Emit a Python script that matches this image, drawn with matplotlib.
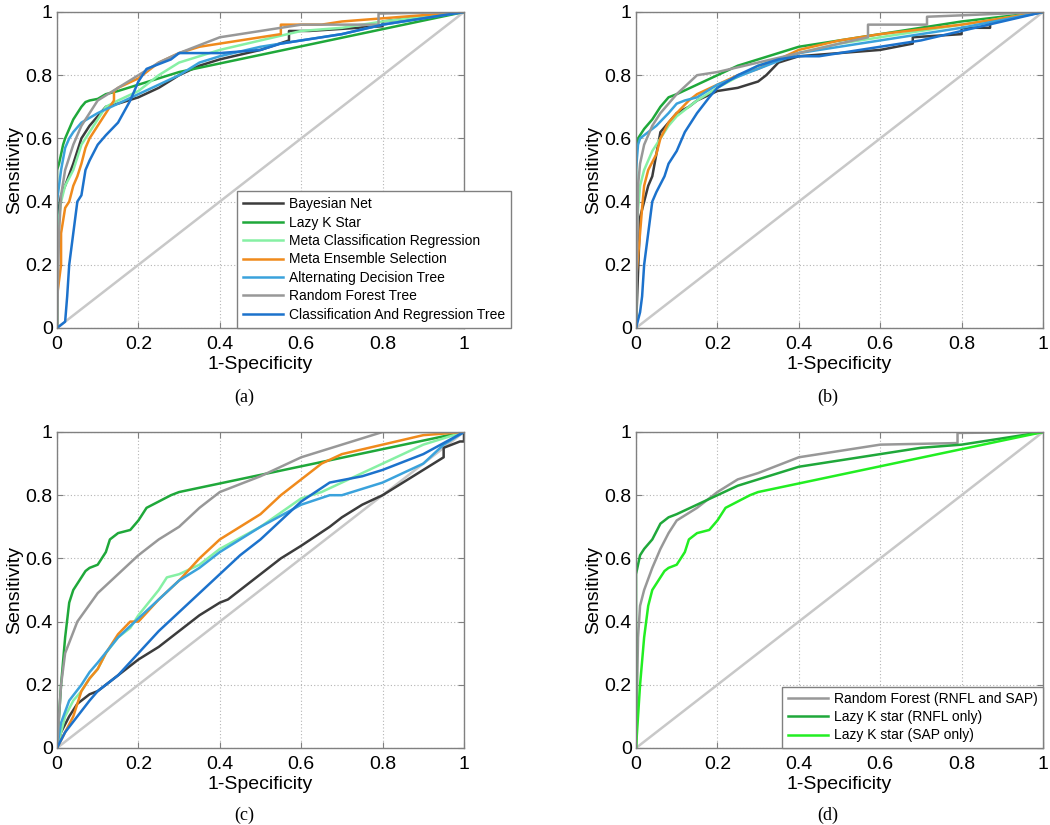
import numpy as np
import matplotlib
matplotlib.use('Agg')
import matplotlib.pyplot as plt

plt.rcParams['font.family'] = ['Liberation Sans', 'DejaVu Sans']

# ---- data (1-specificity, sensitivity) ----
names7 = ['Bayesian Net', 'Lazy K Star', 'Meta Classification Regression',
          'Meta Ensemble Selection', 'Alternating Decision Tree',
          'Random Forest Tree', 'Classification And Regression Tree']
colors7 = ['#3c3c3c', '#1fa83a', '#86f0a4', '#f08a1c', '#3aa2dc', '#989898', '#1c72cc']

# panel (a)
a_bayes = [(0,0),(0,0.35),(0.01,0.42),(0.02,0.45),(0.04,0.52),(0.06,0.6),(0.08,0.64),(0.1,0.67),
           (0.12,0.7),(0.15,0.71),(0.2,0.73),(0.25,0.76),(0.3,0.8),(0.35,0.83),(0.4,0.85),(0.5,0.88),
           (0.57,0.91),(0.57,0.94),(0.62,0.94),(0.8,0.955),(0.8,0.97),(1,1)]
a_lazy = [(0,0),(0,0.5),(0.005,0.52),(0.01,0.55),(0.015,0.58),(0.02,0.6),(0.03,0.63),(0.04,0.66),
          (0.05,0.68),(0.06,0.7),(0.07,0.715),(0.08,0.72),(0.1,0.725),(0.12,0.74),(0.15,0.75),
          (0.2,0.77),(0.25,0.79),(0.3,0.81),(1,1)]
a_metacr = [(0,0),(0,0.3),(0.01,0.4),(0.02,0.45),(0.04,0.5),(0.06,0.58),(0.08,0.62),(0.1,0.66),
            (0.12,0.7),(0.15,0.72),(0.2,0.75),(0.25,0.8),(0.3,0.84),(0.4,0.88),(0.5,0.91),(0.6,0.94),
            (0.7,0.95),(0.8,0.97),(1,1)]
a_metaes = [(0,0),(0,0.1),(0.01,0.2),(0.01,0.3),(0.02,0.38),(0.03,0.4),(0.04,0.45),(0.05,0.48),
            (0.06,0.52),(0.07,0.57),(0.08,0.6),(0.1,0.64),(0.12,0.68),(0.14,0.72),(0.14,0.75),
            (0.15,0.76),(0.2,0.79),(0.25,0.84),(0.3,0.87),(0.35,0.89),(0.4,0.9),(0.5,0.92),
            (0.55,0.93),(0.55,0.96),(0.65,0.96),(0.7,0.97),(0.8,0.98),(1,1)]
a_adt = [(0,0),(0,0.4),(0.01,0.5),(0.02,0.57),(0.03,0.6),(0.04,0.62),(0.06,0.65),(0.1,0.68),
         (0.15,0.71),(0.2,0.74),(0.25,0.77),(0.3,0.8),(0.35,0.84),(0.4,0.86),(0.5,0.89),(0.6,0.91),
         (0.7,0.93),(0.8,0.96),(0.9,0.98),(1,1)]
a_rf = [(0,0),(0.005,0.3),(0.01,0.42),(0.02,0.5),(0.04,0.58),(0.06,0.64),(0.08,0.68),(0.1,0.72),
        (0.15,0.76),(0.2,0.8),(0.25,0.84),(0.3,0.87),(0.4,0.92),(0.5,0.94),(0.6,0.96),(0.79,0.96),
        (0.79,0.995),(1,1)]
a_cart = [(0,0),(0.02,0.02),(0.025,0.1),(0.03,0.2),(0.04,0.3),(0.05,0.4),(0.06,0.42),(0.07,0.5),
          (0.08,0.53),(0.1,0.58),(0.12,0.61),(0.15,0.65),(0.18,0.72),(0.2,0.78),(0.22,0.82),
          (0.28,0.85),(0.3,0.87),(0.4,0.87),(0.5,0.88),(0.55,0.9),(0.6,0.91),(0.7,0.93),(0.8,0.96),(1,1)]

# panel (b)
b_bayes = [(0,0),(0.01,0.35),(0.02,0.4),(0.03,0.45),(0.04,0.48),(0.05,0.55),(0.06,0.62),(0.08,0.65),
           (0.1,0.68),(0.13,0.7),(0.15,0.72),(0.2,0.75),(0.25,0.76),(0.3,0.78),(0.32,0.8),(0.35,0.84),
           (0.4,0.86),(0.5,0.87),(0.6,0.88),(0.68,0.9),(0.68,0.92),(0.8,0.93),(0.8,0.95),(0.87,0.95),
           (0.87,0.97),(1,1)]
b_lazy = [(0,0),(0,0.55),(0.005,0.6),(0.02,0.63),(0.04,0.66),(0.06,0.7),(0.08,0.73),(0.1,0.74),
          (0.15,0.77),(0.2,0.8),(0.25,0.83),(0.3,0.85),(0.35,0.87),(0.4,0.89),(0.5,0.91),(0.6,0.93),
          (0.8,0.97),(1,1)]
b_metacr = [(0,0),(0,0.3),(0.01,0.45),(0.02,0.5),(0.04,0.56),(0.06,0.6),(0.08,0.64),(0.1,0.67),
            (0.15,0.72),(0.2,0.76),(0.3,0.83),(0.4,0.87),(0.5,0.9),(0.6,0.92),(0.8,0.96),(1,1)]
b_metaes = [(0,0),(0,0.15),(0.01,0.3),(0.015,0.38),(0.02,0.45),(0.03,0.5),(0.05,0.55),(0.06,0.6),
            (0.08,0.65),(0.1,0.68),(0.13,0.72),(0.15,0.74),(0.2,0.77),(0.25,0.8),(0.3,0.82),
            (0.35,0.85),(0.4,0.88),(0.5,0.91),(0.6,0.93),(0.8,0.96),(1,1)]
b_adt = [(0,0),(0,0.5),(0.005,0.58),(0.01,0.6),(0.03,0.62),(0.05,0.64),(0.08,0.68),(0.1,0.71),
         (0.12,0.72),(0.15,0.73),(0.2,0.77),(0.3,0.82),(0.4,0.87),(0.5,0.89),(0.6,0.91),(0.8,0.95),(1,1)]
b_rf = [(0,0),(0.005,0.45),(0.01,0.52),(0.02,0.58),(0.04,0.64),(0.06,0.68),(0.1,0.74),(0.15,0.8),
        (0.2,0.81),(0.3,0.84),(0.4,0.87),(0.5,0.9),(0.57,0.92),(0.57,0.96),(0.715,0.96),
        (0.715,0.985),(1,1)]
b_cart = [(0,0),(0.01,0.05),(0.015,0.1),(0.02,0.2),(0.03,0.3),(0.04,0.4),(0.05,0.43),(0.07,0.48),
          (0.08,0.52),(0.1,0.56),(0.12,0.62),(0.15,0.68),(0.18,0.73),(0.2,0.76),(0.25,0.8),
          (0.3,0.83),(0.35,0.85),(0.4,0.86),(0.45,0.86),(0.5,0.87),(0.6,0.89),(0.7,0.91),
          (0.8,0.94),(0.9,0.97),(1,1)]

# panel (c)
c_bayes = [(0,0),(0.01,0.05),(0.03,0.1),(0.05,0.14),(0.08,0.17),(0.1,0.18),(0.15,0.23),(0.2,0.28),
           (0.25,0.32),(0.3,0.37),(0.35,0.42),(0.4,0.46),(0.42,0.47),(0.45,0.5),(0.5,0.55),
           (0.55,0.6),(0.6,0.64),(0.67,0.7),(0.7,0.73),(0.75,0.77),(0.8,0.8),(0.85,0.84),
           (0.95,0.92),(0.95,0.95),(0.99,0.97),(1,0.97),(1,1)]
c_lazy = [(0,0),(0.01,0.2),(0.02,0.35),(0.03,0.46),(0.04,0.5),(0.05,0.52),(0.06,0.54),(0.07,0.56),
          (0.08,0.57),(0.1,0.58),(0.12,0.62),(0.13,0.66),(0.15,0.68),(0.18,0.69),(0.2,0.72),
          (0.22,0.76),(0.25,0.78),(0.28,0.8),(0.3,0.81),(1,1)]
c_metacr = [(0,0),(0.02,0.1),(0.04,0.15),(0.06,0.18),(0.08,0.22),(0.1,0.25),(0.12,0.3),(0.15,0.35),
            (0.18,0.38),(0.2,0.42),(0.25,0.5),(0.27,0.54),(0.3,0.55),(0.35,0.58),(0.4,0.63),
            (0.5,0.7),(0.6,0.79),(0.65,0.81),(0.7,0.84),(0.8,0.9),(0.9,0.96),(1,1)]
c_metaes = [(0,0),(0.02,0.05),(0.04,0.1),(0.06,0.18),(0.08,0.22),(0.1,0.25),(0.12,0.3),(0.15,0.36),
            (0.18,0.4),(0.2,0.4),(0.25,0.47),(0.3,0.53),(0.35,0.6),(0.4,0.66),(0.45,0.7),(0.5,0.74),
            (0.55,0.8),(0.6,0.85),(0.65,0.9),(0.7,0.93),(0.8,0.96),(0.9,0.99),(1,1)]
c_adt = [(0,0),(0.01,0.08),(0.03,0.15),(0.06,0.2),(0.08,0.24),(0.1,0.27),(0.15,0.35),(0.2,0.41),
         (0.25,0.47),(0.3,0.53),(0.35,0.57),(0.4,0.62),(0.5,0.7),(0.6,0.77),(0.67,0.8),(0.7,0.8),
         (0.8,0.84),(0.9,0.9),(0.95,0.96),(1,1)]
c_rf = [(0,0),(0.01,0.2),(0.02,0.3),(0.05,0.4),(0.1,0.49),(0.15,0.55),(0.2,0.61),(0.25,0.66),
        (0.3,0.7),(0.35,0.76),(0.4,0.81),(0.5,0.86),(0.6,0.92),(0.7,0.96),(0.8,1.0),(1,1)]
c_cart = [(0,0),(0.02,0.05),(0.05,0.1),(0.08,0.15),(0.1,0.18),(0.15,0.23),(0.2,0.3),(0.25,0.37),
          (0.3,0.43),(0.35,0.49),(0.4,0.55),(0.45,0.61),(0.5,0.66),(0.55,0.72),(0.6,0.78),
          (0.67,0.84),(0.75,0.86),(0.8,0.88),(0.9,0.93),(1,1)]

# panel (d)
names3 = ['Random Forest (RNFL and SAP)', 'Lazy K star (RNFL only)', 'Lazy K star (SAP only)']
colors3 = ['#989898', '#1fa83a', '#22ee22']
d_rf = [(0,0),(0.005,0.35),(0.01,0.45),(0.02,0.5),(0.04,0.57),(0.06,0.63),(0.08,0.68),(0.1,0.72),
        (0.15,0.76),(0.2,0.81),(0.25,0.85),(0.3,0.87),(0.4,0.92),(0.5,0.94),(0.6,0.96),
        (0.79,0.965),(0.79,0.997),(1,1)]
d_rnfl = [(0,0),(0,0.55),(0.005,0.58),(0.01,0.61),(0.02,0.63),(0.04,0.66),(0.06,0.71),(0.08,0.73),
          (0.1,0.74),(0.15,0.77),(0.2,0.8),(0.25,0.83),(0.3,0.85),(0.35,0.87),(0.4,0.89),
          (0.5,0.91),(0.6,0.93),(0.7,0.95),(0.8,0.96),(0.9,0.98),(1,1)]
d_sap = [(0,0),(0.01,0.2),(0.02,0.35),(0.03,0.45),(0.04,0.5),(0.05,0.52),(0.06,0.54),(0.07,0.56),
         (0.08,0.57),(0.1,0.58),(0.12,0.62),(0.13,0.66),(0.15,0.68),(0.18,0.69),(0.2,0.72),
         (0.22,0.76),(0.25,0.78),(0.28,0.8),(0.3,0.81),(1,1)]

ticks = [0, 0.2, 0.4, 0.6, 0.8, 1]
tick_labels = ['0', '0.2', '0.4', '0.6', '0.8', '1']


def style_axes(ax):
    ax.plot([0, 1], [0, 1], color='#c8c8c8', lw=1.8)
    ax.set_xlim(0, 1)
    ax.set_ylim(0, 1)
    ax.set_xticks(ticks)
    ax.set_yticks(ticks)
    ax.set_xticklabels(tick_labels, fontsize=14)
    ax.set_yticklabels(tick_labels, fontsize=14)
    ax.tick_params(direction='in', length=4, color='#808080', top=True, right=True)
    ax.tick_params(axis='x', pad=6)
    ax.tick_params(axis='y', pad=3)
    ax.grid(True, linestyle=(0, (1, 2)), color='#b4b4b4', lw=0.8)
    for s in ax.spines.values():
        s.set_color('#808080')
        s.set_linewidth(1)
    ax.set_xlabel('1-Specificity', fontsize=14, labelpad=2)
    ax.set_ylabel('Sensitivity', fontsize=14, labelpad=2)


def draw(ax, curves, names, colors):
    for pts, nm, c in zip(curves, names, colors):
        xy = np.array(pts)
        ax.plot(xy[:, 0], xy[:, 1], color=c, lw=1.8, label=nm)


fig = plt.figure(figsize=(10.5, 8.25), dpi=100)
W, H = 1050., 825.
axa = fig.add_axes([57 / W, 1 - 328 / H, 407 / W, 316 / H])
axb = fig.add_axes([636 / W, 1 - 328 / H, 407 / W, 316 / H])
axc = fig.add_axes([57 / W, 1 - 748 / H, 407 / W, 316 / H])
axd = fig.add_axes([636 / W, 1 - 748 / H, 407 / W, 316 / H])

for ax in [axa, axb, axc, axd]:
    style_axes(ax)

draw(axa, [a_bayes, a_lazy, a_metacr, a_metaes, a_adt, a_rf, a_cart], names7, colors7)
draw(axb, [b_bayes, b_lazy, b_metacr, b_metaes, b_adt, b_rf, b_cart], names7, colors7)
draw(axc, [c_bayes, c_lazy, c_metacr, c_metaes, c_adt, c_rf, c_cart], names7, colors7)
draw(axd, [d_rf, d_rnfl, d_sap], names3, colors3)

leg = axa.legend(loc='lower left', bbox_to_anchor=(0.442, 0.0), fontsize=10, handlelength=2.9,
                 labelspacing=0.32, borderaxespad=0, borderpad=0.45, handletextpad=0.4,
                 fancybox=False, framealpha=1, edgecolor='#808080')
leg.get_frame().set_linewidth(1)
leg = axd.legend(loc='lower right', fontsize=10, handlelength=2.9, labelspacing=0.3,
                 borderaxespad=0, borderpad=0.4, handletextpad=0.4,
                 fancybox=False, framealpha=1, edgecolor='#808080')
leg.get_frame().set_linewidth(1)

for lab, x, y in [('(a)', 244, 397), ('(b)', 828, 397), ('(c)', 244, 815), ('(d)', 828, 815)]:
    fig.text(x / W, 1 - y / H, lab, fontsize=13, family='Liberation Serif',
             ha='center', va='center')

fig.savefig('out.png', dpi=100)
